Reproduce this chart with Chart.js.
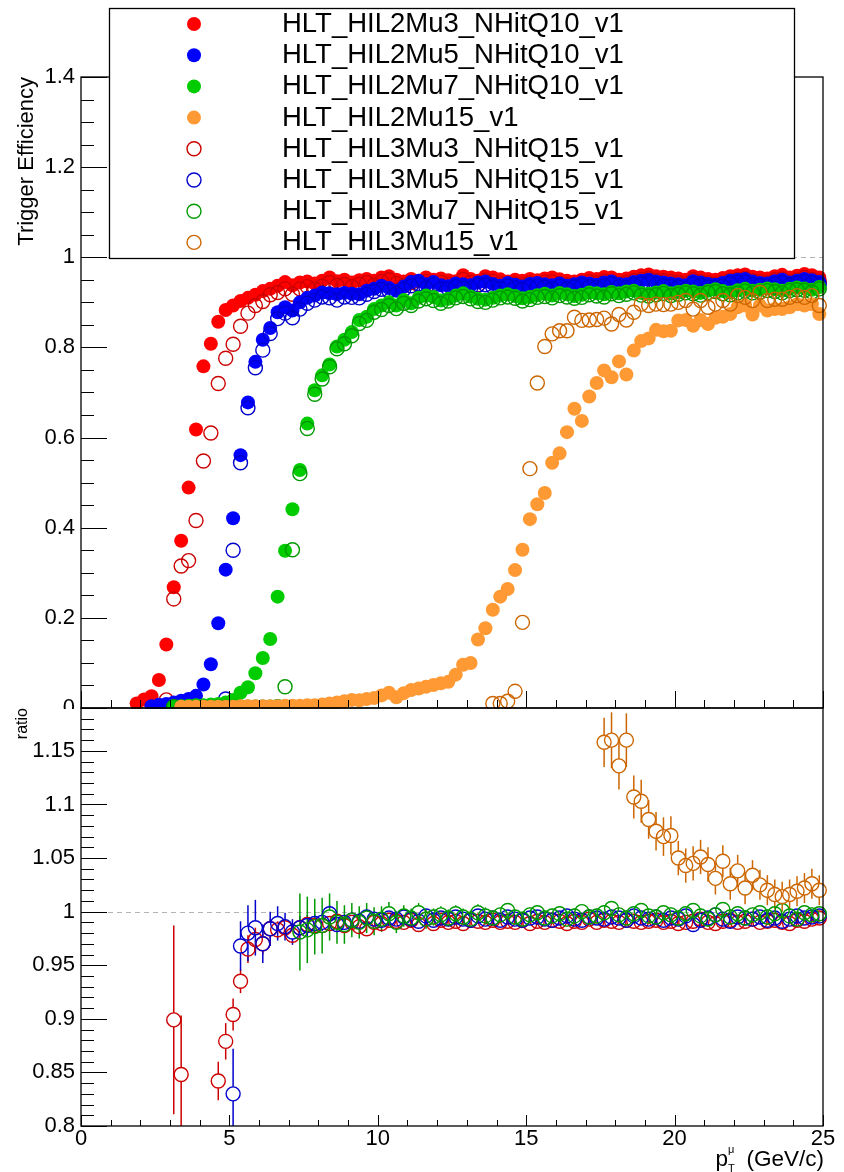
<!DOCTYPE html>
<html><head><meta charset="utf-8">
<script src="https://cdn.jsdelivr.net/npm/chart.js@4.4.0/dist/chart.umd.min.js"></script>
<style>
html,body{margin:0;padding:0;background:#fff;}
#wrap{position:relative;width:844px;height:1172px;overflow:hidden;background:#fff;}
canvas{position:absolute;left:0;top:0;}
</style></head><body>
<div id="wrap"><canvas id="topc" width="844" height="1172"></canvas><canvas id="botc" width="844" height="1172"></canvas></div>
<script>
// ---------------- DATA ----------------
const triggerNames = ['HLT_HIL2Mu3_NHitQ10_v1','HLT_HIL2Mu5_NHitQ10_v1','HLT_HIL2Mu7_NHitQ10_v1','HLT_HIL2Mu15_v1',
  'HLT_HIL3Mu3_NHitQ15_v1','HLT_HIL3Mu5_NHitQ15_v1','HLT_HIL3Mu7_NHitQ15_v1','HLT_HIL3Mu15_v1'];

const ptBins = [
 0.125,0.375,0.625,0.875,1.125,1.375,1.625,1.875,2.125,2.375,
 2.625,2.875,3.125,3.375,3.625,3.875,4.125,4.375,4.625,4.875,
 5.125,5.375,5.625,5.875,6.125,6.375,6.625,6.875,7.125,7.375,
 7.625,7.875,8.125,8.375,8.625,8.875,9.125,9.375,9.625,9.875,
 10.125,10.375,10.625,10.875,11.125,11.375,11.625,11.875,12.125,12.375,
 12.625,12.875,13.125,13.375,13.625,13.875,14.125,14.375,14.625,14.875,
 15.125,15.375,15.625,15.875,16.125,16.375,16.625,16.875,17.125,17.375,
 17.625,17.875,18.125,18.375,18.625,18.875,19.125,19.375,19.625,19.875,
 20.125,20.375,20.625,20.875,21.125,21.375,21.625,21.875,22.125,22.375,
 22.625,22.875,23.125,23.375,23.625,23.875,24.125,24.375,24.625,24.875];

const xTickValues = [0,5,10,15,20,25];
const xTickLabels = ['0','5','10','15','20','25'];
const effTickValues = [0,0.2,0.4,0.6,0.8,1,1.2,1.4];
const effTickLabels = ['0','0.2','0.4','0.6','0.8','1','1.2','1.4'];
const ratioTickValues = [0.8,0.85,0.9,0.95,1,1.05,1.1,1.15];
const ratioTickLabels = ['0.8','0.85','0.9','0.95','1','1.05','1.1','1.15'];

// efficiencies (first bin centre + values)
const l2mu3First = 1.875;
const l2mu3Eff = [
 0.010,0.019,0.026,0.062,0.141,0.268,0.371,0.489,0.618,0.758,
 0.808,0.857,0.883,0.893,0.903,0.910,0.917,0.925,0.930,0.937,
 0.945,0.938,0.944,0.946,0.942,0.948,0.955,0.947,0.950,0.944,
 0.949,0.952,0.948,0.955,0.958,0.950,0.946,0.952,0.948,0.955,
 0.950,0.953,0.949,0.947,0.960,0.952,0.948,0.958,0.955,0.951,
 0.946,0.950,0.948,0.952,0.949,0.953,0.955,0.951,0.948,0.946,
 0.950,0.954,0.952,0.956,0.955,0.950,0.953,0.957,0.960,0.962,
 0.958,0.957,0.955,0.953,0.950,0.958,0.955,0.952,0.950,0.954,
 0.958,0.960,0.962,0.957,0.955,0.953,0.958,0.961,0.955,0.959,
 0.963,0.960,0.955];

const l2mu5First = 2.375;
const l2mu5Eff = [
 0.004,0.007,0.009,0.012,0.016,0.020,0.027,0.052,0.097,0.188,
 0.307,0.421,0.561,0.678,0.768,0.817,0.843,0.878,0.889,0.882,
 0.900,0.910,0.915,0.922,0.920,0.918,0.921,0.919,0.918,0.926,
 0.930,0.937,0.932,0.926,0.935,0.945,0.948,0.940,0.945,0.938,
 0.936,0.942,0.940,0.938,0.944,0.946,0.941,0.937,0.943,0.939,
 0.935,0.941,0.943,0.940,0.938,0.942,0.937,0.940,0.944,0.942,
 0.939,0.944,0.946,0.941,0.940,0.945,0.948,0.950,0.946,0.944,
 0.942,0.940,0.938,0.947,0.944,0.941,0.939,0.943,0.948,0.950,
 0.952,0.946,0.943,0.942,0.947,0.950,0.944,0.948,0.952,0.949,
 0.945];

const l2mu7First = 3.125;
const l2mu7Eff = [
 0.004,0.004,0.005,0.006,0.006,0.008,0.009,0.012,0.018,0.034,
 0.046,0.077,0.111,0.153,0.247,0.349,0.441,0.528,0.631,0.705,
 0.738,0.762,0.802,0.817,0.834,0.861,0.868,0.885,0.893,0.900,
 0.893,0.905,0.898,0.910,0.915,0.912,0.904,0.908,0.915,0.920,
 0.913,0.908,0.906,0.910,0.915,0.918,0.914,0.909,0.912,0.916,
 0.919,0.915,0.921,0.918,0.914,0.917,0.922,0.920,0.918,0.923,
 0.920,0.924,0.926,0.921,0.919,0.922,0.925,0.920,0.923,0.926,
 0.924,0.921,0.926,0.929,0.925,0.922,0.927,0.930,0.926,0.928,
 0.931,0.929,0.926,0.930,0.933,0.931,0.928,0.934];

const l2mu15First = 3.375;
const l2mu15Eff = [
 0.003,0.003,0.003,0.003,0.003,0.003,0.003,0.003,0.004,0.004,
 0.004,0.004,0.004,0.004,0.005,0.005,0.005,0.006,0.006,0.008,
 0.010,0.012,0.015,0.018,0.017,0.020,0.022,0.028,0.034,0.024,
 0.033,0.040,0.043,0.047,0.051,0.055,0.058,0.074,0.096,0.100,
 0.152,0.177,0.218,0.247,0.264,0.306,0.351,0.419,0.452,0.477,
 0.544,0.565,0.612,0.664,0.637,0.691,0.721,0.749,0.734,0.769,
 0.740,0.793,0.814,0.820,0.839,0.836,0.837,0.860,0.861,0.848,
 0.861,0.852,0.866,0.868,0.874,0.889,0.893,0.873,0.893,0.882,
 0.885,0.885,0.889,0.896,0.893,0.896,0.874];

const l3mu3First = 2.875;
const l3mu3Eff = [
 0.018,0.242,0.315,0.327,0.416,0.548,0.610,0.720,0.776,0.807,
 0.847,0.876,0.893,0.902,0.917,0.922,0.930,0.918,0.930,0.935,
 0.930,0.936,0.944,0.938,0.940,0.935,0.940,0.944,0.938,0.946,
 0.950,0.942,0.937,0.944,0.939,0.946,0.941,0.945,0.940,0.938,
 0.951,0.944,0.939,0.949,0.947,0.942,0.937,0.941,0.939,0.943,
 0.940,0.945,0.946,0.942,0.939,0.937,0.941,0.946,0.943,0.947,
 0.946,0.941,0.944,0.948,0.951,0.953,0.949,0.948,0.946,0.944,
 0.941,0.950,0.946,0.943,0.941,0.945,0.949,0.951,0.953,0.948,
 0.946,0.944,0.950,0.952,0.946,0.950,0.955,0.951,0.947];

const l3mu5First = 4.875;
const l3mu5Eff = [
 0.020,0.350,0.544,0.666,0.755,0.794,0.831,0.864,0.876,0.866,
 0.885,0.898,0.905,0.912,0.910,0.905,0.912,0.911,0.910,0.918,
 0.924,0.929,0.925,0.919,0.929,0.937,0.941,0.932,0.939,0.930,
 0.930,0.935,0.932,0.931,0.938,0.939,0.934,0.931,0.936,0.932,
 0.929,0.935,0.936,0.934,0.931,0.936,0.930,0.934,0.938,0.935,
 0.933,0.937,0.941,0.935,0.933,0.939,0.942,0.944,0.940,0.937,
 0.936,0.934,0.930,0.941,0.938,0.934,0.933,0.936,0.942,0.945,
 0.945,0.940,0.937,0.936,0.941,0.944,0.939,0.943,0.946,0.943,
 0.940];

const l3mu7First = 3.125;
const l3mu7Eff = [
 0.003,0.002,0.002,0.002,0.002,0.002,0.002,0.002,0.002,0.002,
 0.002,0.002,0.002,0.002,0.003,0.047,0.351,0.520,0.620,0.696,
 0.730,0.757,0.797,0.808,0.826,0.853,0.860,0.878,0.884,0.893,
 0.886,0.898,0.893,0.903,0.908,0.904,0.898,0.903,0.910,0.913,
 0.908,0.902,0.900,0.905,0.910,0.912,0.909,0.903,0.906,0.911,
 0.913,0.910,0.915,0.912,0.909,0.911,0.917,0.914,0.912,0.919,
 0.915,0.918,0.921,0.916,0.914,0.917,0.920,0.915,0.918,0.921,
 0.919,0.916,0.922,0.924,0.919,0.917,0.921,0.925,0.921,0.923,
 0.926,0.924,0.921,0.926,0.928,0.927,0.923,0.930];

const l3mu15First = 13.875;
const l3mu15Eff = [
 0.010,0.010,0.015,0.037,0.190,0.531,0.721,0.802,0.830,0.837,
 0.837,0.867,0.860,0.861,0.862,0.865,0.852,0.873,0.861,0.878,
 0.896,0.893,0.896,0.895,0.896,0.900,0.904,0.885,0.904,0.889,
 0.896,0.904,0.896,0.915,0.911,0.904,0.922,0.904,0.907,0.907,
 0.911,0.915,0.911,0.915,0.893];

// ratios L3 / L2 (values and vertical errors)
const ratioMu3First = 3.125;
const ratioMu3 = [
 0.899,0.848,null,null,null,null,0.842,0.879,0.904,0.935,
 0.965,0.974,0.970,0.984,0.983,0.985,0.978,0.985,0.988,0.987,
 0.987,0.989,0.991,0.987,0.990,0.986,0.984,0.990,0.989,0.992,
 0.991,0.990,0.992,0.988,0.993,0.989,0.992,0.990,0.991,0.989,
 0.992,0.991,0.990,0.992,0.990,0.991,0.990,0.992,0.989,0.991,
 0.990,0.992,0.991,0.989,0.991,0.990,0.993,0.990,0.992,0.991,
 0.990,0.992,0.991,0.990,0.991,0.992,0.990,0.991,0.989,0.990,
 0.991,0.993,0.990,0.989,0.991,0.992,0.990,0.991,0.993,0.990,
 0.991,0.992,0.990,0.989,0.992,0.991,0.993,0.994];
const ratioMu3Err = [
 0.088,0.055,null,null,null,null,0.018,0.017,0.015,0.011,
 0.013,0.011,0.010,0.009,0.008,0.008,0.007,0.007,0.007,0.006,
 0.006,0.006,0.006,0.006,0.006,0.006,0.006,0.005,0.005,0.005,
 0.005,0.005,0.005,0.005,0.005,0.005,0.005,0.005,0.005,0.005,
 0.005,0.005,0.005,0.005,0.005,0.005,0.005,0.005,0.005,0.005,
 0.005,0.005,0.005,0.005,0.005,0.005,0.005,0.005,0.005,0.005,
 0.005,0.005,0.005,0.005,0.005,0.005,0.005,0.005,0.005,0.005,
 0.005,0.005,0.005,0.005,0.005,0.005,0.005,0.005,0.005,0.005,
 0.006,0.006,0.006,0.006,0.006,0.006,0.006,0.006];

const ratioMu5First = 5.125;
const ratioMu5 = [
 0.830,0.968,0.980,0.985,0.970,0.984,0.989,0.986,0.981,0.985,
 0.987,0.989,0.990,0.998,0.988,0.990,0.992,0.991,0.995,0.993,
 0.992,0.994,0.993,0.995,0.993,0.991,0.996,0.992,0.994,0.993,
 0.995,0.993,0.992,0.996,0.993,0.994,0.992,0.995,0.993,0.992,
 0.994,0.995,0.993,0.992,0.994,0.996,0.993,0.992,0.995,0.994,
 0.993,0.995,0.994,0.992,0.996,0.994,0.993,0.995,0.992,0.994,
 0.993,0.996,0.988,0.992,0.994,0.997,0.993,0.991,0.995,0.994,
 0.993,0.995,0.992,0.994,0.991,0.993,0.996,0.994,0.995,0.996];
const ratioMu5Err = [
 0.042,0.023,0.026,0.026,0.018,0.016,0.016,0.013,0.012,0.011,
 0.010,0.009,0.008,0.008,0.007,0.007,0.007,0.006,0.006,0.006,
 0.006,0.006,0.006,0.006,0.006,0.006,0.006,0.006,0.006,0.006,
 0.006,0.006,0.006,0.006,0.006,0.006,0.006,0.006,0.006,0.006,
 0.006,0.006,0.006,0.006,0.006,0.006,0.006,0.006,0.006,0.006,
 0.006,0.006,0.006,0.006,0.006,0.006,0.006,0.006,0.006,0.006,
 0.006,0.006,0.006,0.006,0.006,0.006,0.006,0.006,0.006,0.006,
 0.006,0.006,0.006,0.006,0.006,0.006,0.006,0.006,0.006,0.006];

const ratioMu7First = 7.375;
const ratioMu7 = [
 0.981,0.983,0.986,0.987,0.995,0.990,0.988,0.992,0.990,0.994,
 0.991,0.993,0.998,0.990,0.996,0.994,0.999,0.993,0.995,0.997,
 0.994,0.998,0.995,0.993,0.999,0.996,0.994,0.997,1.001,0.995,
 0.993,0.997,0.999,0.994,0.996,0.998,0.993,0.996,1.000,0.995,
 0.996,0.999,1.003,0.997,0.994,0.998,1.001,0.996,0.995,0.999,
 0.997,0.994,0.998,1.001,0.996,0.993,0.997,1.002,0.995,0.998,
 0.994,0.997,0.999,0.995,0.998,1.001,0.996,0.993,0.999,0.997,
 0.998];
const ratioMu7Err = [
 0.036,0.031,0.026,0.026,0.022,0.020,0.018,0.016,0.015,0.014,
 0.013,0.012,0.011,0.010,0.010,0.009,0.009,0.009,0.008,0.008,
 0.008,0.008,0.008,0.008,0.008,0.008,0.007,0.007,0.007,0.007,
 0.007,0.007,0.007,0.007,0.007,0.007,0.007,0.007,0.007,0.007,
 0.007,0.007,0.007,0.007,0.007,0.007,0.007,0.007,0.007,0.007,
 0.007,0.007,0.007,0.007,0.007,0.007,0.007,0.007,0.007,0.007,
 0.007,0.007,0.007,0.007,0.007,0.007,0.007,0.007,0.007,0.007,
 0.007];

const ratioMu15First = 17.625;
const ratioMu15 = [
 1.158,1.160,1.136,1.160,1.107,1.103,1.086,1.075,1.070,1.071,
 1.050,1.043,1.045,1.051,1.044,1.031,1.047,1.026,1.038,1.022,
 1.034,1.025,1.020,1.016,1.014,1.016,1.019,1.022,1.026,1.020];
const ratioMu15Err = [
 0.023,0.026,0.022,0.025,0.020,0.020,0.018,0.018,0.018,0.018,
 0.016,0.016,0.016,0.016,0.016,0.015,0.015,0.015,0.015,0.015,
 0.014,0.014,0.014,0.014,0.014,0.014,0.014,0.014,0.014,0.014];

// ---------------- STYLE / BUILD ----------------
const FONT = "'Liberation Sans', Arial, Helvetica, sans-serif";
Chart.defaults.font.family = FONT;
Chart.defaults.color = '#000';

function makePoints(first, vals, errs){
  const start = ptBins.indexOf(first);
  const pts = [];
  vals.forEach((v,i)=>{ if(v===null) return; pts.push({x: ptBins[start+i], y: v, err: errs ? errs[i] : 0}); });
  return pts;
}

const effList = [
  [l2mu3First,l2mu3Eff],[l2mu5First,l2mu5Eff],[l2mu7First,l2mu7Eff],[l2mu15First,l2mu15Eff],
  [l3mu3First,l3mu3Eff],[l3mu5First,l3mu5Eff],[l3mu7First,l3mu7Eff],[l3mu15First,l3mu15Eff]];
const effColors = ['#ff0000','#0000ff','#00cc00','#ff9933','#cc0000','#0000cc','#009900','#cc6600'];
const effFilled = [true,true,true,true,false,false,false,false];
const drawRank = [0,2,4,6,1,3,5,7];

const topDatasets = effList.map((s,i)=>({
  label: triggerNames[i],
  data: makePoints(s[0], s[1], null),
  pointRadius: 7, pointHoverRadius: 7,
  pointBackgroundColor: effFilled[i] ? effColors[i] : 'rgba(0,0,0,0)',
  pointBorderColor: effColors[i],
  pointBorderWidth: effFilled[i] ? 0 : 1.4,
  backgroundColor: effColors[i], borderColor: effColors[i],
  _filled: effFilled[i],
  showLine: false, clip: false,
  order: 7 - drawRank[i]
}));

const ratioList = [
  [ratioMu3First, ratioMu3, ratioMu3Err, '#cc0000', 3],
  [ratioMu5First, ratioMu5, ratioMu5Err, '#0000cc', 2],
  [ratioMu7First, ratioMu7, ratioMu7Err, '#009900', 1],
  [ratioMu15First, ratioMu15, ratioMu15Err, '#cc6600', 0]];
const ratioNames = ['HLT_HIL3Mu3_NHitQ15_v1 / HLT_HIL2Mu3_NHitQ10_v1','HLT_HIL3Mu5_NHitQ15_v1 / HLT_HIL2Mu5_NHitQ10_v1',
  'HLT_HIL3Mu7_NHitQ15_v1 / HLT_HIL2Mu7_NHitQ10_v1','HLT_HIL3Mu15_v1 / HLT_HIL2Mu15_v1'];
const botDatasets = ratioList.map((s,i)=>({
  label: ratioNames[i],
  data: makePoints(s[0], s[1], s[2]),
  pointRadius: 7, pointHoverRadius: 7,
  pointBackgroundColor: 'rgba(0,0,0,0)', pointBorderColor: s[3], pointBorderWidth: 1.4,
  borderColor: s[3], backgroundColor: s[3],
  showLine: false, clip: {left:false, right:false, top:false, bottom:0},
  order: s[4]
}));

function line(ctx,x1,y1,x2,y2){ctx.beginPath();ctx.moveTo(x1,y1);ctx.lineTo(x2,y2);ctx.stroke();}
function dashedAt(chart, value){
  const ctx = chart.ctx, a = chart.chartArea, py = Math.round(chart.scales.y.getPixelForValue(value))+0.5;
  ctx.save(); ctx.strokeStyle='#b4b4b4'; ctx.lineWidth=1; ctx.setLineDash([5,4]);
  line(ctx,a.left,py,a.right,py); ctx.restore();
}

const topPlugin = {
  id: 'topFrame',
  beforeDatasetsDraw(chart){ dashedAt(chart, 1); },
  afterDraw(chart){
    const ctx = chart.ctx, a = chart.chartArea, xs = chart.scales.x, ys = chart.scales.y;
    ctx.save();
    ctx.strokeStyle = '#000'; ctx.lineWidth = 1;
    for (let v=0; v<=25; v++){
      const px = Math.round(xs.getPixelForValue(v))+0.5;
      line(ctx,px,a.bottom,px,a.bottom-(v%5===0?17:8));
    }
    for (let k=0; k<=28; k++){
      const py = Math.round(ys.getPixelForValue(k*0.05))+0.5;
      line(ctx,a.left,py,a.left+(k%4===0?26:13),py);
    }
    ctx.lineWidth = 1.3;
    ctx.strokeRect(a.left, a.top, a.right-a.left, a.bottom-a.top);
    // legend box
    const lx=109, ly=8, lw=685, lh=250;
    ctx.fillStyle='#fff'; ctx.fillRect(lx,ly,lw,lh);
    ctx.strokeStyle='#000'; ctx.lineWidth=1.3; ctx.strokeRect(lx+0.5,ly+0.5,lw,lh);
    ctx.font = "27.5px " + FONT; ctx.textBaseline='alphabetic'; ctx.textAlign='left';
    chart.data.datasets.forEach((ds,i)=>{
      const cy = 24 + i*31.2;
      ctx.beginPath(); ctx.arc(194, cy, 7, 0, Math.PI*2);
      if (ds._filled){ ctx.fillStyle = ds.backgroundColor; ctx.fill(); }
      else { ctx.strokeStyle = ds.borderColor; ctx.lineWidth = 1.4; ctx.stroke(); }
      ctx.fillStyle = '#000';
      ctx.fillText(ds.label, 282, cy + 8);
    });
    ctx.restore();
  }
};

const botPlugin = {
  id: 'botFrame',
  beforeDraw(chart){
    const ctx = chart.ctx; ctx.save(); ctx.fillStyle='#fff';
    ctx.fillRect(0, 709, chart.width, chart.height-709); ctx.restore();
  },
  beforeDatasetsDraw(chart){
    dashedAt(chart, 1);
    const ctx = chart.ctx, a = chart.chartArea, xs = chart.scales.x, ys = chart.scales.y;
    ctx.save();
    ctx.beginPath(); ctx.rect(0, a.top, chart.width, a.bottom-a.top); ctx.clip();
    ctx.lineWidth = 1.5;
    chart.data.datasets.forEach(ds=>{
      ctx.strokeStyle = ds.borderColor;
      ds.data.forEach(p=>{
        if (!p.err) return;
        const px = xs.getPixelForValue(p.x), py = ys.getPixelForValue(p.y);
        const yt = ys.getPixelForValue(p.y + p.err), yb = ys.getPixelForValue(p.y - p.err);
        const r = 7;
        if (py - yt > r) line(ctx, px, yt, px, py - r);
        if (yb - py > r) line(ctx, px, py + r, px, yb);
      });
    });
    ctx.restore();
  },
  afterDraw(chart){
    const ctx = chart.ctx, a = chart.chartArea, xs = chart.scales.x, ys = chart.scales.y;
    ctx.save();
    ctx.strokeStyle = '#000'; ctx.lineWidth = 1;
    for (let v=0; v<=25; v++){
      const px = Math.round(xs.getPixelForValue(v))+0.5;
      line(ctx,px,a.bottom,px,a.bottom-(v%5===0?11:6));
    }
    for (let k=0; k<=39; k++){
      const py = Math.round(ys.getPixelForValue(0.8 + k*0.01))+0.5;
      line(ctx,a.left,py,a.left+(k%5===0?26:13),py);
    }
    ctx.lineWidth = 1.3;
    ctx.strokeRect(a.left, a.top, a.right-a.left, a.bottom-a.top);
    // x title  p_T^mu (GeV/c)
    ctx.fillStyle = '#000'; ctx.textBaseline = 'alphabetic';
    ctx.font = "22.5px " + FONT; ctx.textAlign = 'right';
    ctx.fillText('(GeV/c)', 824, 1166);
    ctx.fillText('p', 728, 1166);
    ctx.font = "11px " + FONT; ctx.textAlign = 'left';
    ctx.fillText('\u03bc', 728, 1153);
    ctx.fillText('T', 728, 1172);
    ctx.restore();
  }
};

new Chart(document.getElementById('topc'), {
  type: 'scatter',
  data: { datasets: topDatasets },
  options: {
    responsive: false, animation: false, devicePixelRatio: 1,
    layout: { padding: { left: 0, top: 77, right: 21, bottom: 464 } },
    plugins: { legend: { display: false }, tooltip: { enabled: false } },
    scales: {
      x: { type: 'linear', min: 0, max: 25, display: false },
      y: {
        type: 'linear', min: 0, max: 1.4,
        grid: { display: false, drawTicks: false }, border: { display: false },
        afterBuildTicks: s => { s.ticks = effTickValues.map(v => ({ value: v })); },
        afterFit: s => { s.width = 81; },
        ticks: { padding: 6, font: { size: 22 }, color: '#000', autoSkip: false,
                 callback: v => effTickLabels[effTickValues.indexOf(v)] },
        title: { display: true, text: 'Trigger Efficiency', align: 'end', color: '#000',
                 font: { size: 22 }, padding: { top: 14, bottom: 0 } }
      }
    }
  },
  plugins: [topPlugin]
});

new Chart(document.getElementById('botc'), {
  type: 'scatter',
  data: { datasets: botDatasets },
  options: {
    responsive: false, animation: false, devicePixelRatio: 1,
    layout: { padding: { left: 0, top: 708, right: 21, bottom: 0 } },
    plugins: { legend: { display: false }, tooltip: { enabled: false } },
    scales: {
      x: {
        type: 'linear', min: 0, max: 25,
        grid: { display: false, drawTicks: false }, border: { display: false },
        afterBuildTicks: s => { s.ticks = xTickValues.map(v => ({ value: v })); },
        afterFit: s => { s.height = 46; },
        ticks: { padding: 0, font: { size: 22 }, color: '#000', autoSkip: false, maxRotation: 0,
                 callback: v => xTickLabels[xTickValues.indexOf(v)] }
      },
      y: {
        type: 'linear', min: 0.8, max: 1.19,
        grid: { display: false, drawTicks: false }, border: { display: false },
        afterBuildTicks: s => { s.ticks = ratioTickValues.map(v => ({ value: v })); },
        afterFit: s => { s.width = 81; },
        ticks: { padding: 6, font: { size: 22 }, color: '#000', autoSkip: false,
                 callback: v => ratioTickLabels[ratioTickValues.indexOf(v)] },
        title: { display: true, text: 'ratio', align: 'end', color: '#000',
                 font: { size: 16 }, padding: { top: 13, bottom: 0 } }
      }
    }
  },
  plugins: [botPlugin]
});
</script></body></html>
